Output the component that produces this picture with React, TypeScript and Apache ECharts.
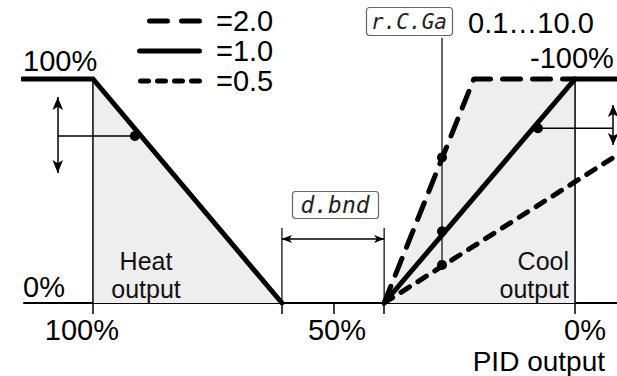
import React, { useEffect, useRef } from 'react';
import * as echarts from 'echarts';

// ---- data (PID output %, controller output %) ----
const PID_TICKS = [100, 50, 0];
const PID_MIN = -8.7;
const PID_MAX = 114.3;
const HEAT_LINE = [[114.6, 100], [100, 100], [60.8, 0]];
const COOL_GAIN_10 = [[39.6, 0], [0, 100], [-8.7, 100]];
const COOL_GAIN_20 = [[39.6, 0], [21, 100], [0, 100]];
const COOL_GAIN_05 = [[39.6, 0], [-8.7, 66]];
const HEAT_AREA = [[100, 100], [60.8, 0]];
const COOL_AREA = [[39.6, 0], [21, 100], [0, 100]];
const DEADBAND = [60.8, 39.6];
const DEADBAND_TOP = 33.5;
const DEADBAND_ARROW_Y = 28.6;
const RCGA_X = 27.6;
const RCGA_TOP = 118.3;
const RCGA_DOTS = [65, 32, 17];
const HEAT_ARROW = [107.3, 92, 58, 74.6, 91.3]; // x, yTop, yBottom, yLevel, dotX
const COOL_ARROW = [-7.9, 88.4, 70.5, 78, 7.7];
const GAIN_LABELS = ['=2.0', '=1.0', '=0.5'];
const Y_LABELS = ['100%', '0%', '-100%'];
const PARAM_LABELS = ['r.C.Ga', 'd.bnd'];
const RANGE_LABEL = '0.1…10.0';

const FONT = '"Liberation Sans", Arial, Helvetica, sans-serif';
const SEG_FONT = '"DejaVu Sans Mono", monospace';

const seg = (data: any[], lineStyle: any, z = 3, extra: any = {}) => ({
  type: 'line',
  data,
  symbol: 'none',
  clip: false,
  silent: true,
  lineStyle: { color: '#000', ...lineStyle },
  z,
  ...extra,
});

const doubleArrow = (x1: number, y1: number, x2: number, y2: number, size: number[]) => ({
  symbol: ['arrow', 'arrow'],
  symbolSize: size,
  silent: true,
  label: { show: false },
  lineStyle: { color: '#000', width: 1.5, type: 'solid' },
  emphasis: { disabled: true },
  data: [[{ coord: [x1, y1] }, { coord: [x2, y2] }]],
});

const txt = (x: number, y: number, text: string, size: number, align: string, fill = '#000') => ({
  type: 'text',
  z: 100,
  x,
  y,
  style: { text, font: `${size}px ${FONT}`, fill, align, verticalAlign: 'middle' },
});

export default function App() {
  const ref = useRef<HTMLDivElement>(null);
  useEffect(() => {
    if (!ref.current) return;
    const chart = echarts.init(ref.current, null, { renderer: 'svg' });
    const labelStyle = { fontSize: 29, fontFamily: FONT, color: '#000' };
    const option: any = {
      animation: false,
      grid: { left: 24, right: 0, top: 79, bottom: 73 },
      xAxis: {
        type: 'value',
        min: PID_MIN,
        max: PID_MAX,
        inverse: true,
        axisLine: { show: true, onZero: false, lineStyle: { color: '#000', width: 2 } },
        axisTick: {
          show: true,
          customValues: [...PID_TICKS, ...DEADBAND],
          length: 11,
          lineStyle: { color: '#000', width: 1.5 },
        },
        axisLabel: {
          customValues: PID_TICKS,
          margin: 12,
          formatter: (v: number) =>
            v === PID_TICKS[0] ? `{l|${v}%}` : v === PID_TICKS[2] ? `{r|${v}%}` : `{m|${v}%}`,
          rich: {
            l: { ...labelStyle, padding: [0, 22, 0, 0] },
            m: { ...labelStyle, padding: [0, 0, 0, 6] },
            r: { ...labelStyle, padding: [0, 0, 0, 20] },
          },
          ...labelStyle,
        },
        splitLine: { show: false },
      },
      yAxis: { type: 'value', min: 0, max: 100, show: false },
      series: [
        seg(HEAT_AREA, { width: 0, opacity: 0 }, 1, { areaStyle: { color: '#eeeeee', opacity: 1 } }),
        seg(COOL_AREA, { width: 0, opacity: 0 }, 1, { areaStyle: { color: '#eeeeee', opacity: 1 } }),
        seg([[PID_TICKS[0], 100], [PID_TICKS[0], 0]], { width: 1.5 }, 2),
        seg([[PID_TICKS[2], 100], [PID_TICKS[2], 0]], { width: 1.5 }, 2),
        seg([[DEADBAND[0], DEADBAND_TOP], [DEADBAND[0], 0]], { width: 1.2 }, 2, {
          markLine: doubleArrow(DEADBAND[0], DEADBAND_ARROW_Y, DEADBAND[1], DEADBAND_ARROW_Y, [6, 10]),
        }),
        seg([[DEADBAND[1], DEADBAND_TOP], [DEADBAND[1], 0]], { width: 1.2 }, 2),
        seg([[HEAT_ARROW[0], HEAT_ARROW[3]], [HEAT_ARROW[4], HEAT_ARROW[3]]], { width: 1.5 }, 2, {
          markLine: doubleArrow(HEAT_ARROW[0], HEAT_ARROW[1], HEAT_ARROW[0], HEAT_ARROW[2], [8, 13]),
        }),
        seg([[COOL_ARROW[0], COOL_ARROW[3]], [COOL_ARROW[4], COOL_ARROW[3]]], { width: 1.5 }, 2, {
          markLine: doubleArrow(COOL_ARROW[0], COOL_ARROW[1], COOL_ARROW[0], COOL_ARROW[2], [8, 12]),
        }),
        seg([[RCGA_X, RCGA_TOP], [RCGA_X, RCGA_DOTS[2]]], { width: 1.8, color: '#555' }, 2),
        seg(HEAT_LINE, { width: 5, cap: 'round', join: 'miter' }, 4),
        seg(COOL_GAIN_10, { width: 5, cap: 'round', join: 'miter' }, 4),
        seg(COOL_GAIN_20, { width: 5, type: [18, 12], cap: 'round', join: 'round' }, 4),
        seg(COOL_GAIN_05, { width: 5, type: [10, 10], cap: 'round' }, 4),
        {
          type: 'scatter',
          symbolSize: 10,
          silent: true,
          z: 5,
          itemStyle: { color: '#000', opacity: 1 },
          data: [
            [HEAT_ARROW[4], HEAT_ARROW[3]],
            [COOL_ARROW[4], COOL_ARROW[3]],
            ...RCGA_DOTS.map((y) => [RCGA_X, y]),
          ],
        },
      ],
      graphic: [
        // legend samples
        { type: 'line', z: 100, shape: { x1: 149.5, y1: 21, x2: 199.5, y2: 21 }, style: { stroke: '#000', lineWidth: 5, lineDash: [18, 14], lineCap: 'round' } },
        { type: 'line', z: 100, shape: { x1: 139.5, y1: 51, x2: 199.5, y2: 51 }, style: { stroke: '#000', lineWidth: 5, lineCap: 'round' } },
        { type: 'line', z: 100, shape: { x1: 140.5, y1: 81, x2: 199.5, y2: 81 }, style: { stroke: '#000', lineWidth: 5, lineDash: [8, 9], lineCap: 'round' } },
        ...GAIN_LABELS.map((t, i) => txt(216, 21 + i * 30, t, 29, 'left')),
        // y labels
        txt(23, 61, Y_LABELS[0], 29, 'left'),
        txt(23, 287, Y_LABELS[1], 29, 'left'),
        txt(530, 58, Y_LABELS[2], 29, 'left'),
        // axis name
        txt(605, 361, 'PID output', 28, 'right'),
        // region labels
        txt(146, 261, 'Heat', 25, 'center', '#111'),
        txt(146, 289, 'output', 25, 'center', '#111'),
        txt(569, 261, 'Cool', 25, 'right', '#111'),
        txt(569, 289, 'output', 25, 'right', '#111'),
        // parameter boxes
        { type: 'rect', z: 100, shape: { x: 366.5, y: 7.5, width: 86, height: 28, r: 3 }, style: { fill: '#fff', stroke: '#666', lineWidth: 1.2 } },
        { type: 'text', z: 101, x: 409, y: 22, style: { text: PARAM_LABELS[0], font: `italic 21px ${SEG_FONT}`, fill: '#222', align: 'center', verticalAlign: 'middle' } },
        txt(468, 23, RANGE_LABEL, 29, 'left'),
        { type: 'rect', z: 100, shape: { x: 292.5, y: 191.5, width: 86, height: 27, r: 3 }, style: { fill: '#fff', stroke: '#666', lineWidth: 1.2 } },
        { type: 'text', z: 101, x: 335, y: 205, style: { text: PARAM_LABELS[1], font: `italic 23px ${SEG_FONT}`, fill: '#222', align: 'center', verticalAlign: 'middle' } },
      ],
    };
    chart.setOption(option);
    return () => chart.dispose();
  }, []);
  return <div ref={ref} style={{ position: 'absolute', left: 0, top: 0, width: 617, height: 376, background: '#fff' }} />;
}
